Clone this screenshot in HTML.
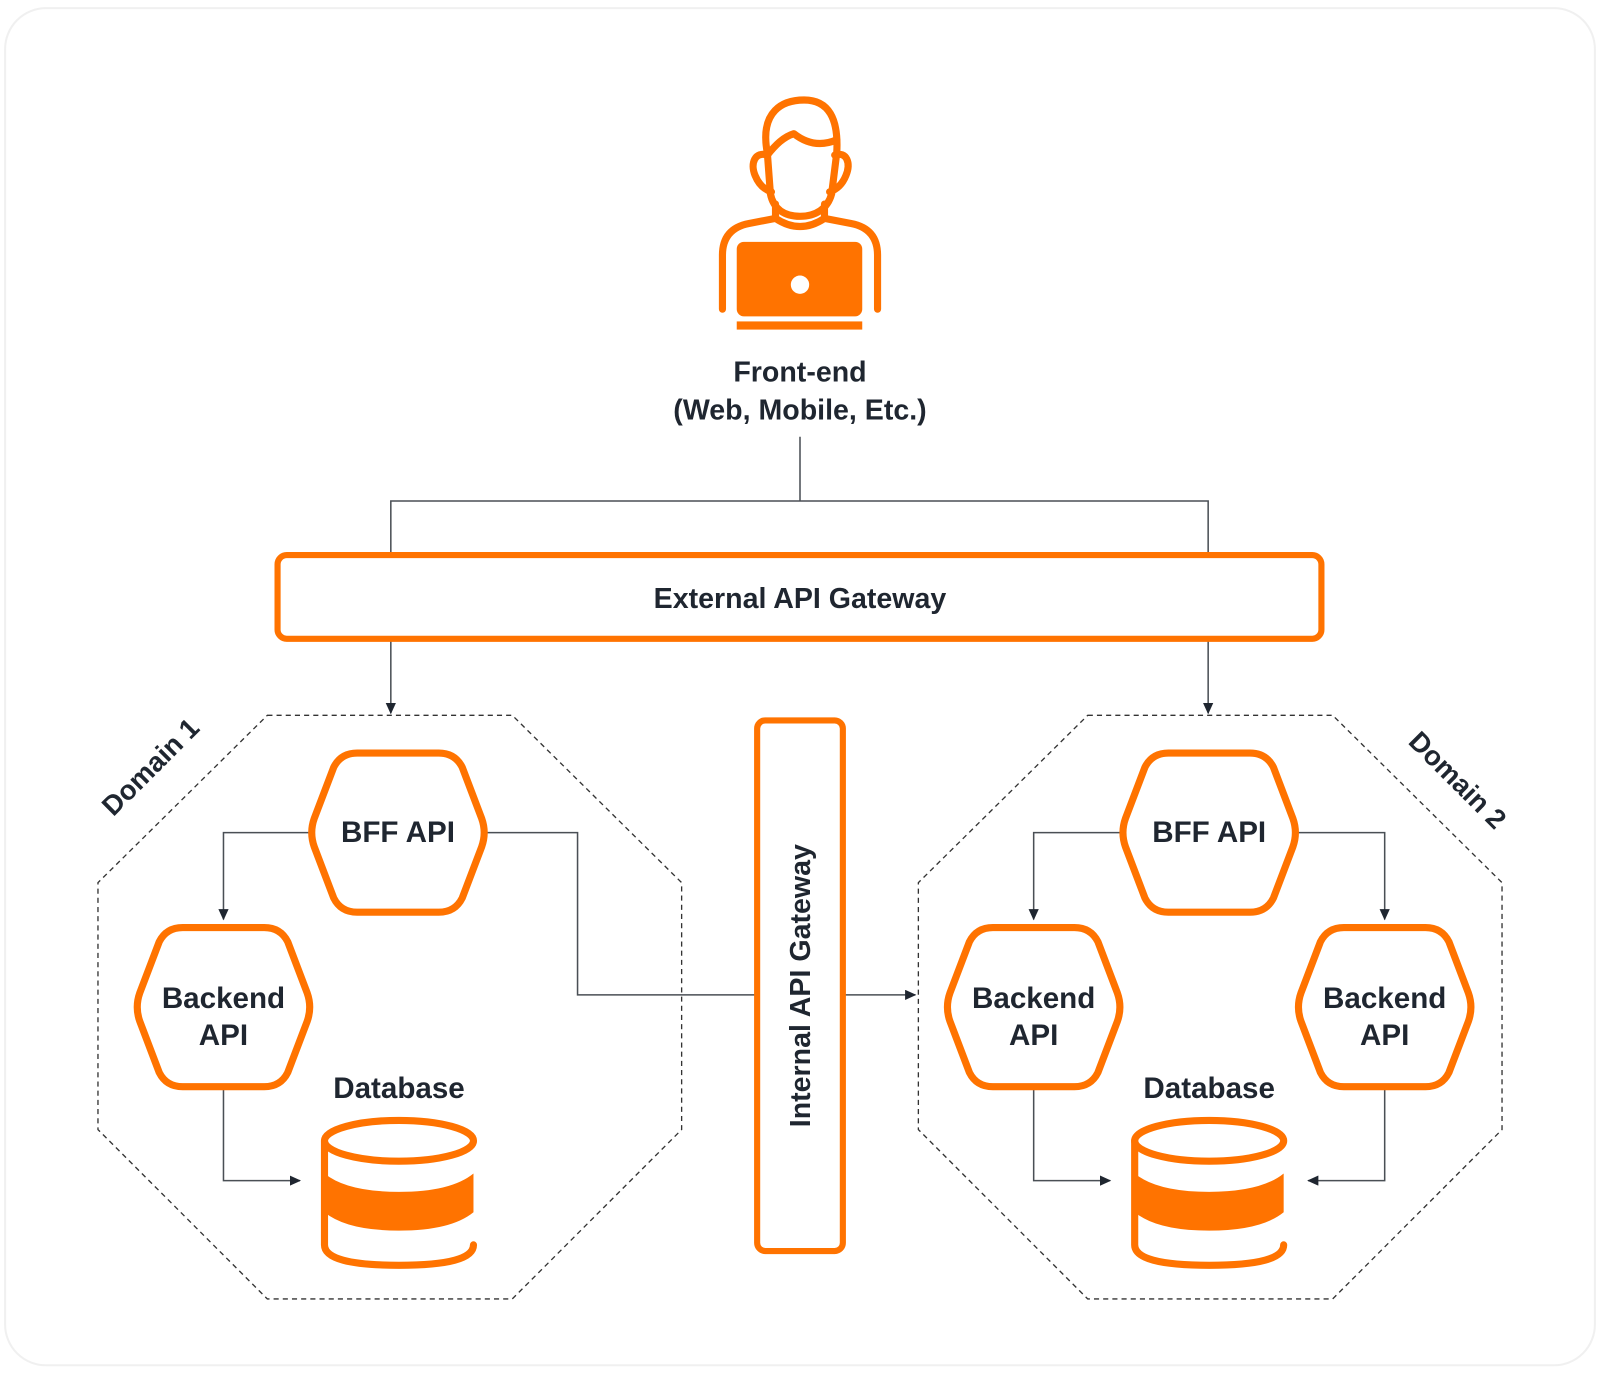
<!DOCTYPE html>
<html><head><meta charset="utf-8"><style>
html,body{margin:0;padding:0;background:#fff;}
svg{display:block;}
text{font-family:"Liberation Sans",sans-serif;font-weight:bold;fill:#1f2630;}
</style></head><body>
<svg width="1600" height="1376" viewBox="0 0 1568 1348.5" xmlns="http://www.w3.org/2000/svg">
<defs>
<marker id="ar" markerWidth="12" markerHeight="12" refX="10" refY="5" orient="auto" markerUnits="userSpaceOnUse"><path d="M0,0 L11,5 L0,10 Z" fill="#1f2630"/></marker>
<path id="hx" d="M-40,-78 L40,-78 Q56,-78 63,-64 L82,-14 Q87,0 82,14 L63,64 Q56,78 40,78 L-40,78 Q-56,78 -63,64 L-82,14 Q-87,0 -82,-14 L-63,-64 Q-56,-78 -40,-78 Z" fill="#fff" stroke="#ff7300" stroke-width="7"/>
</defs>
<rect x="5" y="8" width="1558" height="1330" rx="40" fill="#fff" stroke="#f0f0f0" stroke-width="2"/>

<!-- person -->
<g fill="none" stroke="#ff7300" stroke-width="7" stroke-linecap="round" stroke-linejoin="round">
<path d="M752,150 C744,108 768,98 788,98 C812,98 822,116 820,150 L815,190 C811,205 799,212 784,212 C769,212 758,205 755,190 Z"/>
<path d="M752,152 C760,142 768,134 778,131 C792,142 806,143 820,137"/>
<path d="M752,152 C740,148 735,160 740,172 C744,182 750,186 756,188"/>
<path d="M818,152 C830,148 834,160 829,172 C825,182 819,186 813,188"/>
<path d="M760,200 L760,214 Q784,230 808,214 L808,200"/>
<path d="M708,303 L708,250 Q708,224 734,219 L760,214"/>
<path d="M860,303 L860,250 Q860,224 834,219 L808,214"/>
</g>
<rect x="722" y="237" width="123" height="73" rx="7" fill="#ff7300"/>
<circle cx="784" cy="279" r="9" fill="#fff"/>
<rect x="722" y="315" width="123" height="8" fill="#ff7300"/>
<text x="784" y="374" font-size="28" text-anchor="middle">Front-end</text>
<text x="784" y="411" font-size="28" text-anchor="middle">(Web, Mobile, Etc.)</text>

<g fill="none" stroke="#4a4f55" stroke-width="1.5">
<path d="M784,428 L784,491 M383,543 L383,491 L1184,491 L1184,543"/>
<path d="M383,628 L383,699" marker-end="url(#ar)"/>
<path d="M1184,628 L1184,699" marker-end="url(#ar)"/>
</g>

<rect x="272" y="544" width="1023" height="82" rx="9" fill="#fff" stroke="#ff7300" stroke-width="6"/>
<text x="784" y="596" font-size="28" text-anchor="middle">External API Gateway</text>

<g fill="none" stroke="#333" stroke-width="1.3" stroke-dasharray="5,4">
<polygon points="262,701 502,701 668,865 668,1107 502,1273 262,1273 96,1107 96,865"/>
<polygon points="1066,701 1306,701 1472,865 1472,1107 1306,1273 1066,1273 900,1107 900,865"/>
</g>
<text font-size="27" text-anchor="middle" transform="translate(154,758) rotate(-45)">Domain 1</text>
<text font-size="27" text-anchor="middle" transform="translate(1422,771) rotate(45)">Domain 2</text>

<g fill="none" stroke="#4a4f55" stroke-width="1.5">
<path d="M305,816 L219,816 L219,901" marker-end="url(#ar)"/>
<path d="M477,816 L566,816 L566,975 L742,975"/>
<path d="M826,975 L897,975" marker-end="url(#ar)"/>
<path d="M219,1066 L219,1157 L294,1157" marker-end="url(#ar)"/>
<path d="M1099,816 L1013,816 L1013,901" marker-end="url(#ar)"/>
<path d="M1271,816 L1357,816 L1357,901" marker-end="url(#ar)"/>
<path d="M1013,1066 L1013,1157 L1088,1157" marker-end="url(#ar)"/>
<path d="M1357,1066 L1357,1157 L1282,1157" marker-end="url(#ar)"/>
</g>

<rect x="742" y="706" width="84" height="520" rx="8" fill="#fff" stroke="#ff7300" stroke-width="6"/>
<text font-size="28" text-anchor="middle" transform="translate(794,966) rotate(-90)">Internal API Gateway</text>

<use href="#hx" x="390" y="816"/>
<use href="#hx" x="219" y="987"/>
<use href="#hx" x="1185" y="816"/>
<use href="#hx" x="1013" y="987"/>
<use href="#hx" x="1357" y="987"/>
<g font-size="29" text-anchor="middle">
<text x="390" y="825">BFF API</text>
<text x="1185" y="825">BFF API</text>
<text x="219" y="988">Backend</text><text x="219" y="1024">API</text>
<text x="1013" y="988">Backend</text><text x="1013" y="1024">API</text>
<text x="1357" y="988">Backend</text><text x="1357" y="1024">API</text>
<text x="391" y="1076">Database</text>
<text x="1185" y="1076">Database</text>
</g>

<g id="db">
<ellipse cx="391" cy="1118" rx="73" ry="20" fill="none" stroke="#ff7300" stroke-width="7"/>
<path d="M318,1118 L318,1220 Q318,1240 391,1240 Q464,1240 464,1220" fill="none" stroke="#ff7300" stroke-width="7" stroke-linecap="round"/>
<path d="M318,1150 Q340,1168 391,1168 Q442,1168 464,1150 L464,1188 Q442,1206 391,1206 Q340,1206 318,1188 Z" fill="#ff7300"/>
</g>
<use href="#db" x="794"/>
</svg>
</body></html>
